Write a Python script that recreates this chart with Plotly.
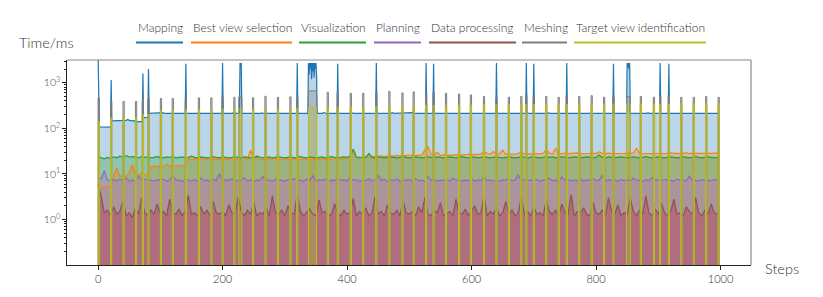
import plotly.graph_objects as go

# ---------------- data ----------------
grid_steps = list(range(0, 1000, 5)) + [999]

mapping_readings = [
    (0, 4000), (2, 108), (20, 106), (21, 1150), (22, 146), (30, 148), (40, 147), (45, 150),
    (48, 156), (50, 149), (55, 146), (60, 147), (61, 140), (66, 142), (71, 140), (72, 1600),
    (73, 172), (80, 174), (81, 2000), (82, 212), (100, 213), (104, 221), (106, 212), (140, 212),
    (141, 2600), (142, 212), (160, 213), (163, 221), (165, 212), (199, 212), (200, 2700), (201, 212),
    (215, 213), (218, 222), (220, 212), (227, 212), (228, 2700), (229, 2400), (230, 2700), (231, 212),
    (260, 212), (263, 218), (266, 212), (319, 212), (320, 2700), (321, 212), (337, 212), (338, 2700),
    (339, 1500), (340, 2700), (341, 2000), (342, 2700), (343, 1200), (344, 2700), (345, 1800),
    (346, 2700), (347, 1300), (348, 2700), (349, 2000), (350, 2700), (351, 1500), (352, 212),
    (360, 213), (363, 222), (366, 212), (384, 212), (385, 2600), (386, 212), (405, 213), (408, 219),
    (411, 212), (446, 212), (447, 2700), (448, 212), (470, 212), (473, 220), (476, 212), (500, 213),
    (505, 221), (508, 212), (526, 212), (527, 2700), (528, 212), (538, 212), (539, 2600), (540, 212),
    (560, 212), (563, 219), (566, 212), (600, 213), (604, 218), (607, 212), (639, 212), (640, 2700),
    (641, 212), (687, 212), (688, 2700), (689, 212), (699, 212), (700, 2600), (701, 212), (720, 213),
    (724, 219), (727, 212), (752, 212), (753, 2700), (754, 212), (790, 212), (793, 218), (796, 212),
    (827, 212), (828, 2600), (829, 212), (849, 212), (850, 2700), (851, 2200), (852, 2700),
    (853, 2000), (854, 2700), (855, 212), (880, 213), (884, 219), (887, 212), (902, 212), (903, 2700),
    (904, 212), (916, 212), (917, 2600), (918, 212), (950, 212), (953, 218), (956, 212), (980, 213),
    (985, 218), (988, 212), (999, 212),
]
mapping_steps = [s for s, _ in mapping_readings]
mapping_ms = [v for _, v in mapping_readings]

best_view_ms = [
    6.5, 5.2, 5.0, 5.4, 5.1, 9.0, 13.5, 8.8, 9.2, 8.6, 11.0, 16.0, 9.0, 9.7, 10.2, 9.5, 9.8, 14.2, 14.8, 14.5,
    15.0, 14.6, 16.5, 14.8, 15.2, 14.7, 15.5, 14.9, 15.3, 21.0, 20.6, 21.5, 20.8, 22.5, 20.9, 21.2, 20.7, 21.8, 20.8, 21.3,
    20.9, 21.4, 20.6, 22.8, 21.0, 20.7, 21.5, 23.5, 21.0, 33.0, 20.8, 25.5, 21.2, 20.7, 21.6, 20.9, 21.3, 22.0, 20.8, 21.2,
    20.8, 21.3, 20.9, 21.6, 21.0, 20.7, 21.4, 21.0, 20.8, 21.5, 21.1, 20.9, 21.7, 21.0, 20.8, 21.4, 21.2, 22.0, 21.0, 21.6,
    22.0, 24.0, 30.0, 23.0, 22.5, 23.5, 24.0, 23.2, 24.5, 23.8, 24.2, 25.0, 24.0, 24.6, 25.2, 24.3, 25.5, 24.8, 25.0, 25.6,
    25.0, 25.8, 24.9, 26.0, 25.3, 34.0, 40.0, 27.0, 25.6, 30.0, 25.4, 26.0, 25.2, 26.3, 25.5, 26.5, 25.7, 26.1, 25.6, 27.0,
    26.2, 27.0, 26.5, 27.5, 30.0, 28.5, 27.0, 31.0, 26.7, 27.8, 33.0, 27.2, 26.9, 27.6, 27.0, 28.0, 30.0, 27.4, 27.1, 27.8,
    27.2, 28.0, 27.5, 28.3, 34.0, 28.5, 27.6, 36.0, 28.0, 27.8, 28.6, 27.9, 28.2, 27.6, 28.8, 28.0, 27.7, 28.4, 28.1, 28.5,
    28.0, 30.5, 28.2, 27.8, 28.6, 28.1, 27.9, 28.7, 28.2, 28.0, 28.5, 28.1, 28.8, 36.5, 28.3, 28.0, 28.6, 28.2, 27.9, 28.4,
    28.1, 28.6, 28.0, 28.4, 28.9, 28.2, 27.9, 28.5, 28.1, 28.8, 28.0, 28.4, 28.2, 28.7, 28.0, 28.5, 28.3, 28.1, 28.6, 28.2,
    28.4,
]

visualization_ms = [
    24.0, 22.5, 21.5, 23.0, 22.0, 23.5, 22.5, 24.5, 23.0, 25.0, 23.5, 24.0, 23.0, 22.5, 24.0, 23.0, 23.5, 22.5, 23.0, 24.0,
    23.0, 22.5, 23.5, 23.0, 24.0, 22.5, 23.0, 23.5, 22.5, 23.0, 24.5, 23.0, 22.5, 23.5, 23.0, 22.5, 23.0, 24.0, 23.0, 22.5,
    23.5, 23.0, 22.5, 23.0, 24.0, 23.0, 22.5, 23.5, 23.0, 22.5, 23.0, 24.0, 23.5, 22.5, 23.0, 23.5, 22.5, 23.0, 24.0, 23.0,
    22.5, 23.0, 23.5, 22.5, 23.0, 24.0, 23.0, 22.5, 23.5, 23.0, 22.5, 23.0, 23.5, 22.5, 23.0, 24.0, 23.0, 22.5, 23.0, 23.5,
    23.0, 24.5, 35.0, 23.5, 23.0, 22.5, 23.0, 28.0, 23.0, 22.5, 23.5, 23.0, 22.5, 23.0, 23.5, 23.0, 22.5, 23.0, 24.0, 23.0,
    22.5, 23.0, 23.5, 23.0, 22.5, 23.0, 24.0, 23.0, 22.5, 23.5, 23.0, 22.5, 23.0, 23.5, 23.0, 22.5, 23.0, 24.0, 23.0, 22.5,
    23.0, 23.5, 22.5, 23.0, 23.5, 23.0, 22.5, 23.0, 24.0, 23.0, 22.5, 23.0, 23.5, 23.0, 22.5, 23.0, 23.5, 23.0, 22.5, 23.0,
    23.5, 23.0, 22.5, 23.0, 24.0, 23.0, 23.5, 22.5, 23.0, 23.5, 23.0, 22.5, 23.0, 23.5, 23.0, 22.5, 23.0, 23.5, 23.0, 22.5,
    23.0, 26.0, 23.0, 22.5, 23.5, 23.0, 22.5, 23.0, 23.5, 23.0, 22.5, 23.0, 23.5, 23.0, 22.5, 23.0, 24.0, 23.0, 22.5, 23.0,
    23.5, 23.0, 22.5, 23.0, 23.5, 23.0, 22.5, 23.0, 23.5, 23.0, 22.5, 23.0, 24.0, 23.0, 22.5, 23.0, 23.5, 23.0, 22.5, 23.0,
    23.5,
]

planning_ms = [
    8.3, 7.8, 11.8, 7.3, 7.1, 7.5, 6.9, 7.7, 7.2, 8.1, 7.0, 7.4, 6.8, 8.9, 7.2, 7.6, 7.1, 7.3, 6.9, 7.5,
    7.2, 7.6, 6.9, 7.3, 9.5, 7.1, 7.4, 6.8, 7.7, 7.2, 7.0, 7.5, 6.9, 8.1, 7.2, 7.3, 6.8, 7.6, 7.1, 10.1,
    7.0, 7.4, 7.2, 7.8, 6.9, 7.3, 7.1, 8.2, 7.0, 7.5, 6.8, 7.3, 7.2, 8.7, 7.1, 7.4, 6.9, 7.6, 7.2, 7.3,
    6.9, 7.5, 7.1, 7.9, 7.2, 7.3, 6.8, 7.7, 7.1, 9.1, 7.0, 7.4, 7.2, 7.6, 6.9, 7.3, 7.1, 8.0, 7.2, 7.4,
    7.0, 8.4, 7.2, 7.5, 6.9, 7.3, 7.1, 7.8, 7.0, 7.4, 9.3, 7.2, 7.6, 6.9, 7.3, 7.1, 7.7, 6.8, 7.4, 7.2,
    7.5, 7.0, 7.9, 7.1, 7.3, 6.9, 8.8, 7.2, 7.5, 7.0, 7.3, 7.1, 7.6, 6.9, 8.1, 7.2, 7.4, 7.0, 7.3, 7.1,
    7.7, 6.9, 7.4, 7.2, 8.5, 7.1, 7.3, 7.0, 7.6, 6.9, 7.4, 7.2, 7.9, 7.1, 7.3, 9.6, 7.0, 7.5, 7.2, 7.3,
    7.1, 7.6, 6.9, 7.4, 7.2, 8.0, 7.1, 7.3, 6.9, 8.6, 7.2, 7.5, 7.0, 7.3, 7.1, 7.7, 6.9, 7.4, 7.2, 7.8,
    7.1, 7.3, 9.2, 7.0, 7.5, 7.2, 7.3, 6.9, 7.6, 7.1, 7.4, 7.0, 8.1, 7.2, 7.3, 6.9, 7.5, 7.1, 8.3, 7.2,
    7.4, 7.0, 7.6, 7.1, 7.3, 6.9, 7.7, 7.2, 7.4, 7.0, 8.9, 7.1, 7.3, 6.9, 7.5, 7.2, 7.3, 7.0, 7.6, 7.1,
    7.2,
]

data_processing_ms = [
    6.0, 3.2, 1.4, 1.6, 1.2, 1.9, 1.3, 1.5, 2.6, 1.2, 1.4, 1.1, 1.8, 1.3, 3.0, 1.4, 1.2, 1.6, 1.3, 2.2,
    1.3, 1.5, 1.2, 2.8, 1.4, 1.3, 1.7, 1.2, 1.5, 3.4, 1.3, 1.4, 1.2, 1.9, 1.3, 1.6, 1.2, 2.5, 1.4, 1.3,
    1.5, 1.2, 2.1, 1.4, 1.3, 3.1, 1.5, 1.2, 1.6, 1.3, 2.4, 1.2, 1.4, 1.3, 1.8, 1.2, 3.3, 1.4, 1.3, 1.6,
    1.2, 2.0, 1.4, 1.3, 3.6, 1.5, 1.2, 1.4, 1.7, 1.3, 1.2, 2.7, 1.4, 1.5, 1.2, 1.3, 2.2, 1.4, 1.2, 1.6,
    1.3, 1.4, 2.9, 1.2, 1.5, 1.3, 1.8, 1.2, 1.4, 3.2, 1.3, 1.5, 1.2, 2.1, 1.4, 1.3, 1.6, 1.2, 2.6, 1.4,
    1.3, 1.5, 1.2, 1.9, 1.4, 3.0, 1.3, 1.2, 1.6, 1.4, 2.3, 1.2, 1.3, 1.5, 1.2, 2.8, 1.4, 1.3, 1.7, 1.2,
    1.5, 2.0, 1.3, 1.4, 3.4, 1.2, 1.5, 1.3, 1.8, 1.2, 1.4, 2.5, 1.3, 1.6, 1.2, 1.4, 3.1, 1.3, 1.5, 1.2,
    1.9, 1.3, 1.4, 1.2, 2.7, 1.5, 1.3, 1.6, 1.2, 2.2, 1.4, 1.3, 3.5, 1.2, 1.5, 1.4, 1.8, 1.3, 1.2, 2.4,
    1.4, 1.3, 1.6, 1.2, 3.0, 1.5, 1.3, 2.1, 1.2, 1.4, 1.3, 2.9, 1.5, 1.2, 1.6, 1.3, 3.3, 1.4, 1.2, 1.7,
    1.3, 2.3, 1.4, 1.2, 1.5, 2.8, 1.3, 1.4, 1.2, 1.9, 1.5, 1.3, 3.0, 1.4, 1.2, 1.6, 1.3, 2.2, 1.4, 1.3,
    1.5,
]

# meshing / target-view identification happen only at these step ranges (0 elsewhere)
spike_start = [0, 20, 40, 60, 71, 80, 100, 119, 140, 161, 181, 199, 218, 226, 248, 268, 288, 308, 319, 338,
               368, 384, 405, 425, 446, 467, 488, 506, 526, 538, 558, 579, 598, 619, 639, 659, 679, 687, 699, 719,
               739, 752, 772, 792, 812, 827, 849, 871, 892, 902, 916, 936, 956, 976, 996]
spike_end = [2, 22, 42, 62, 73, 82, 102, 121, 142, 163, 183, 201, 220, 231, 250, 270, 290, 310, 321, 351,
             370, 386, 407, 427, 448, 469, 490, 508, 528, 540, 560, 581, 600, 621, 641, 661, 681, 689, 701, 721,
             741, 754, 774, 794, 814, 829, 855, 873, 894, 904, 918, 938, 958, 978, 998]
meshing_ms = [465, 390, 390, 390, 440, 450, 450, 450, 450, 465, 465, 505, 480, 495, 470, 505, 480, 490, 495, 665,
              620, 620, 590, 590, 620, 650, 600, 630, 590, 620, 590, 565, 540, 500, 480, 480, 500, 550, 500, 500,
              480, 520, 500, 520, 480, 500, 500, 500, 480, 500, 500, 480, 480, 500, 480]
target_view_ms = [140, 170, 175, 175, 200, 205, 245, 250, 255, 260, 255, 265, 260, 270, 260, 265, 260, 265, 270, 290,
                  290, 290, 295, 290, 300, 300, 300, 310, 320, 320, 320, 320, 325, 330, 330, 330, 330, 330, 330, 335,
                  335, 335, 335, 335, 340, 340, 340, 340, 340, 340, 340, 345, 345, 345, 345]

series_names = ["Mapping", "Best view selection", "Visualization", "Planning",
                "Data processing", "Meshing", "Target view identification"]
series_colors = ["#1f77b4", "#ff7f0e", "#2ca02c", "#9467bd", "#8c564b", "#7f7f7f", "#bcbd22"]
fill_colors = ["rgba(31,119,180,0.30)", "rgba(255,127,14,0.30)", "rgba(44,160,44,0.30)",
               "rgba(190,110,190,0.45)", "rgba(180,70,95,0.50)", "rgba(127,127,127,0.30)",
               "rgba(188,189,34,0.35)"]
x_ticks = [0, 200, 400, 600, 800, 1000]
y_ticks = [1, 10, 100, 1000]
y_tick_text = ["10<sup>0</sup>", "10<sup>1</sup>", "10<sup>2</sup>", "10<sup>3</sup>"]

# ---------------- figure ----------------
FLOOR = 1e-3  # below the visible log range -> fill reaches the bottom edge


def area_xy(steps, values):
    return list(steps) + [steps[-1], steps[0]], list(values) + [FLOOR, FLOOR]


def spike_xy(starts, ends, values):
    xs, ys = [], []
    for a, b, v in zip(starts, ends, values):
        xs += [a, a, b, b, None]
        ys += [FLOOR, v, v, FLOOR, None]
    return xs, ys


continuous = [
    (mapping_steps, mapping_ms),
    (grid_steps, best_view_ms),
    (grid_steps, visualization_ms),
    (grid_steps, planning_ms),
    (grid_steps, data_processing_ms),
]
spikes = [meshing_ms, target_view_ms]

fig = go.Figure()
LW = 1.2
SPIKE_LW = 1.0

# fills first (like matplotlib zorder), then all lines
for (st, vals), fc in zip(continuous, fill_colors[:5]):
    fx, fy = area_xy(st, vals)
    fig.add_trace(go.Scatter(x=fx, y=fy, mode="lines", fill="toself", fillcolor=fc,
                             line=dict(width=0, color="rgba(0,0,0,0)"), hoverinfo="skip", showlegend=False))
for vals, fc in zip(spikes, fill_colors[5:]):
    fx, fy = spike_xy(spike_start, spike_end, vals)
    fig.add_trace(go.Scatter(x=fx, y=fy, mode="lines", fill="toself", fillcolor=fc,
                             line=dict(width=0, color="rgba(0,0,0,0)"), hoverinfo="skip", showlegend=False))

for (st, vals), c, n in zip(continuous, series_colors[:5], series_names[:5]):
    fig.add_trace(go.Scatter(x=st, y=vals, mode="lines", name=n,
                             line=dict(width=LW, color=c), showlegend=False))
for vals, c, n in zip(spikes, series_colors[5:], series_names[5:]):
    fx, fy = spike_xy(spike_start, spike_end, vals)
    fig.add_trace(go.Scatter(x=fx, y=fy, mode="lines", name=n,
                             line=dict(width=SPIKE_LW, color=c), showlegend=False))

# geometry of plot area (pixels)
W, H = 823, 297
L, R, T, B = 67, 72, 60, 32
PW, PH = W - L - R, H - T - B


def px_x(px):
    return (px - L) / PW


def px_y(py):
    return (H - B - py) / PH


FONT = "Lato, 'Open Sans', 'DejaVu Sans', sans-serif"
TXT = "#333333"

# legend as text + line below (as in the reference)
legend_x = [(136, 183), (191, 292), (299, 366), (374, 421), (429, 516), (522, 567), (574, 706)]
annotations = []
shapes = []
for (x0, x1), n, c in zip(legend_x, series_names, series_colors):
    annotations.append(dict(x=px_x(x0), y=px_y(27), xref="paper", yref="paper", text=n,
                            showarrow=False, xanchor="left", yanchor="middle",
                            font=dict(family=FONT, size=12, color=TXT, weight=300)))
    shapes.append(dict(type="line", xref="paper", yref="paper", x0=px_x(x0), x1=px_x(x1),
                       y0=px_y(42.5), y1=px_y(42.5), line=dict(color=c, width=2)))

annotations.append(dict(x=px_x(17), y=px_y(43), xref="paper", yref="paper", text="Time/ms",
                        showarrow=False, xanchor="left", yanchor="middle",
                        font=dict(family=FONT, size=14.5, color=TXT, weight=300)))
annotations.append(dict(x=px_x(763), y=px_y(268), xref="paper", yref="paper", text="Steps",
                        showarrow=False, xanchor="left", yanchor="middle",
                        font=dict(family=FONT, size=14.5, color=TXT, weight=300)))

# top and right spines in grey
shapes.append(dict(type="line", xref="paper", yref="paper", x0=0, x1=1, y0=1, y1=1,
                   line=dict(color="#8a8a8a", width=1.2)))
shapes.append(dict(type="line", xref="paper", yref="paper", x0=1, x1=1, y0=0, y1=1,
                   line=dict(color="#8a8a8a", width=1.2)))

minor_vals = []
for dec in [0.1, 1, 10, 100, 1000]:
    for k in range(2, 10):
        minor_vals.append(k * dec)

fig.update_layout(
    width=W, height=H, autosize=False,
    margin=dict(l=L, r=R, t=T, b=B, pad=0),
    plot_bgcolor="white", paper_bgcolor="white",
    showlegend=False,
    annotations=annotations, shapes=shapes,
    font=dict(family=FONT, color=TXT, size=10),
    xaxis=dict(range=[-49.95, 1048.95], tickmode="array", tickvals=x_ticks,
               ticks="outside", ticklen=3.5, tickwidth=1, tickcolor="#222",
               showline=True, linecolor="#222", linewidth=1.2, showgrid=False, zeroline=False,
               tickfont=dict(family=FONT, size=11, color=TXT, weight=300)),
    yaxis=dict(type="log", range=[-1, 3.5], tickmode="array", tickvals=y_ticks, ticktext=y_tick_text,
               ticks="outside", ticklen=3.5, tickwidth=1, tickcolor="#222",
               minor=dict(tickmode="array", tickvals=minor_vals, ticks="outside", ticklen=2,
                          tickcolor="#222", showgrid=False),
               showline=True, linecolor="#222", linewidth=1.2, showgrid=False, zeroline=False,
               tickfont=dict(family=FONT, size=10.5, color=TXT, weight=300)),
)

fig.write_html("out.html", config={"displayModeBar": False},
               post_script="document.body.style.margin='0';")
